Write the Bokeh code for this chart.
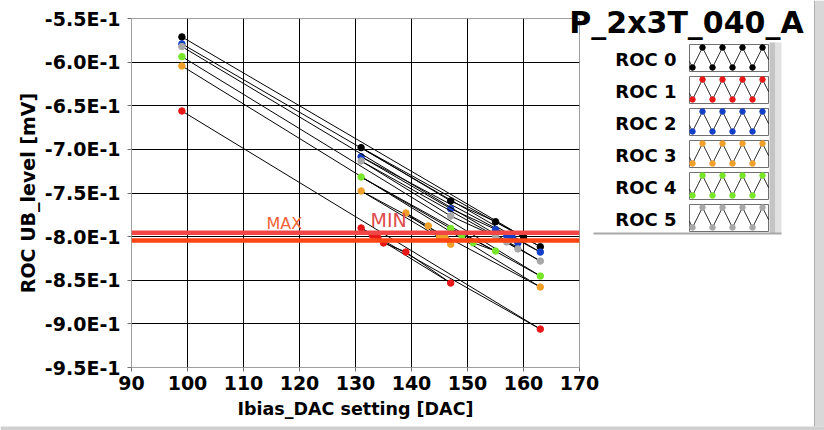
import numpy as np
from bokeh.plotting import figure
from bokeh.models import Range1d, Span, Label
from bokeh.layouts import row
from bokeh.core.properties import value
from bokeh.embed import file_html
from bokeh.resources import INLINE

# ---------------- data ----------------
roc_names = ["ROC 0", "ROC 1", "ROC 2", "ROC 3", "ROC 4", "ROC 5"]
roc_colors = ["#000000", "#e81818", "#1440c8", "#f0a028", "#78e628", "#a8a8a8"]

roc0_x = [99, 163, 131, 147, 155, 160]
roc0_y = [-0.5711, -0.8116, -0.6980, -0.7591, -0.7829, -0.8001]
roc1_x = [99, 163, 131, 147, 139, 135, 133, 134]
roc1_y = [-0.6560, -0.9060, -0.7901, -0.8532, -0.8177, -0.8073, -0.7984, -0.8015]
roc2_x = [99, 163, 131, 147, 155, 159, 157, 158]
roc2_y = [-0.5791, -0.8177, -0.7084, -0.7680, -0.7917, -0.8072, -0.7987, -0.8010]
roc3_x = [99, 163, 131, 147, 139, 143, 145, 146]
roc3_y = [-0.6044, -0.8578, -0.7477, -0.8087, -0.7729, -0.7877, -0.8001, -0.8013]
roc4_x = [99, 163, 131, 147, 155, 151, 149]
roc4_y = [-0.5937, -0.8452, -0.7317, -0.7906, -0.8165, -0.8070, -0.7984]
roc5_x = [99, 163, 131, 147, 155, 159, 157]
roc5_y = [-0.5822, -0.8280, -0.7133, -0.7764, -0.7998, -0.8141, -0.8061]

series_x = [roc0_x, roc1_x, roc2_x, roc3_x, roc4_x, roc5_x]
series_y = [roc0_y, roc1_y, roc2_y, roc3_y, roc4_y, roc5_y]

max_level = -0.7955
min_level = -0.8044

x_ticks = [90, 100, 110, 120, 130, 140, 150, 160, 170]
y_ticks = [-0.95, -0.90, -0.85, -0.80, -0.75, -0.70, -0.65, -0.60, -0.55]
y_tick_labels = ["-9.5E-1", "-9.0E-1", "-8.5E-1", "-8.0E-1", "-7.5E-1",
                 "-7.0E-1", "-6.5E-1", "-6.0E-1", "-5.5E-1"]

chart_title = "P_2x3T_040_A"
x_title = "Ibias_DAC setting [DAC]"
y_title = "ROC UB_level [mV]"

FONT = "DejaVu Sans"

# ---------------- main plot ----------------
p = figure(width=608, height=430, x_range=Range1d(90, 170), y_range=Range1d(-0.95, -0.55),
           output_backend="svg", toolbar_location=None,
           min_border_left=131, min_border_right=29, min_border_top=18, min_border_bottom=63)
p.frame_align = False
p.background_fill_color = "white"
p.border_fill_color = "white"
p.outline_line_color = "#a0a0a0"

p.xaxis.ticker = x_ticks
p.yaxis.ticker = y_ticks
p.xgrid.ticker = x_ticks
p.ygrid.ticker = y_ticks
p.yaxis.major_label_overrides = dict(zip(y_ticks, y_tick_labels))
p.grid.grid_line_color = "black"
p.grid.grid_line_width = 1

p.axis.axis_line_color = "#a0a0a0"
p.axis.major_tick_line_color = "#707070"
p.axis.major_tick_out = 4
p.axis.major_tick_in = 0
p.axis.minor_tick_line_color = None
p.axis.major_label_text_font = FONT
p.axis.major_label_text_font_style = "bold"
p.axis.major_label_text_font_size = "19px"
p.axis.major_label_text_color = "black"
p.axis.axis_label_text_font = FONT
p.axis.axis_label_text_font_style = "bold"
p.axis.axis_label_text_color = "black"
p.xaxis.axis_label_text_font_size = "17.5px"
p.yaxis.axis_label_text_font_size = "19px"
p.xaxis.axis_label = x_title
p.yaxis.axis_label = y_title
p.xaxis.major_label_standoff = 4
p.xaxis.axis_label_standoff = 6
p.yaxis.major_label_standoff = 7
p.yaxis.axis_label_standoff = 3

for xs, ys, c in zip(series_x, series_y, roc_colors):
    p.line(xs, ys, line_color="black", line_width=1)
    p.scatter(xs, ys, size=6.5, fill_color=c, line_color=c)

p.add_layout(Span(location=max_level, dimension="width", line_color="#f04646", line_width=4.5))
p.add_layout(Span(location=min_level, dimension="width", line_color="#ff4414", line_width=4.5))
p.add_layout(Label(x=114.1, y=-0.7852, text="MAX", text_font=FONT,
                   text_font_size="16px", text_color="#f06436", text_baseline="alphabetic"))
p.add_layout(Label(x=132.7, y=-0.7812, text="MIN", text_font=FONT,
                   text_font_size="19px", text_color="#e04c4c", text_baseline="alphabetic"))

# ---------------- transparent overlay: title, legend, window edges ----------------
q = figure(width=824, height=430, x_range=Range1d(0, 824), y_range=Range1d(430, 0),
           output_backend="svg", toolbar_location=None,
           x_axis_location=None, y_axis_location=None, min_border=0,
           margin=(0, 0, 0, -608))
q.frame_align = False
q.grid.visible = False
q.outline_line_color = None
q.background_fill_alpha = 0
q.border_fill_alpha = 0

q.text(x=[686], y=[22], text=[chart_title], text_align="center", text_baseline="middle",
       text_font=value(FONT), text_font_style="bold", text_font_size="30px", text_color="black")

box_l, box_r = 689, 768
row_top0, row_step, box_h = 44, 32, 27
period = 20
# panel shadow
q.quad(left=[769], right=[775], top=[42], bottom=[233], fill_color="#c4c4c4", line_color=None)
q.quad(left=[775], right=[781], top=[42], bottom=[233], fill_color="#e2e2e2", line_color=None)
q.segment(x0=[593], y0=[233], x1=[781], y1=[233], line_color="#a8a8a8", line_width=2)
# window edge bars
q.quad(left=[814], right=[824], top=[0], bottom=[426], fill_color="#d8d8d8", line_color=None)
q.segment(x0=[814], y0=[0], x1=[814], y1=[426], line_color="#b0b0b0", line_width=1)
q.quad(left=[0], right=[824], top=[426], bottom=[430], fill_color="#d0d0d0", line_color=None)

for i, (name, c) in enumerate(zip(roc_names, roc_colors)):
    top = row_top0 + i * row_step
    bot = top + box_h
    q.text(x=[676], y=[(top + bot) / 2 + 1], text=[name], text_align="right", text_baseline="middle",
           text_font=value(FONT), text_font_style="bold", text_font_size="18px", text_color="black")
    q.quad(left=[box_l], right=[box_r], top=[top], bottom=[bot], fill_color="white",
           line_color="#707070", line_width=1)
    peak_y, valley_y = top + 3, bot - 4
    zx = np.arange(box_l, box_r + 0.5, 0.5)
    phase = ((zx - (box_l + 3)) % period) / period  # 0 at valley
    tri = np.where(phase < 0.5, phase * 2, 2 - phase * 2)
    zy = valley_y + (peak_y - valley_y) * tri
    q.line(zx, zy, line_color="black", line_width=1)
    vx = np.arange(box_l + 3, box_r, period)
    px = vx + period / 2
    q.scatter(vx, [valley_y] * len(vx), size=5.5, fill_color=c, line_color=c)
    q.scatter(px, [peak_y] * len(px), size=5.5, fill_color=c, line_color=c)

layout = row(p, q)
open("out.html", "w").write(file_html(layout, INLINE))
